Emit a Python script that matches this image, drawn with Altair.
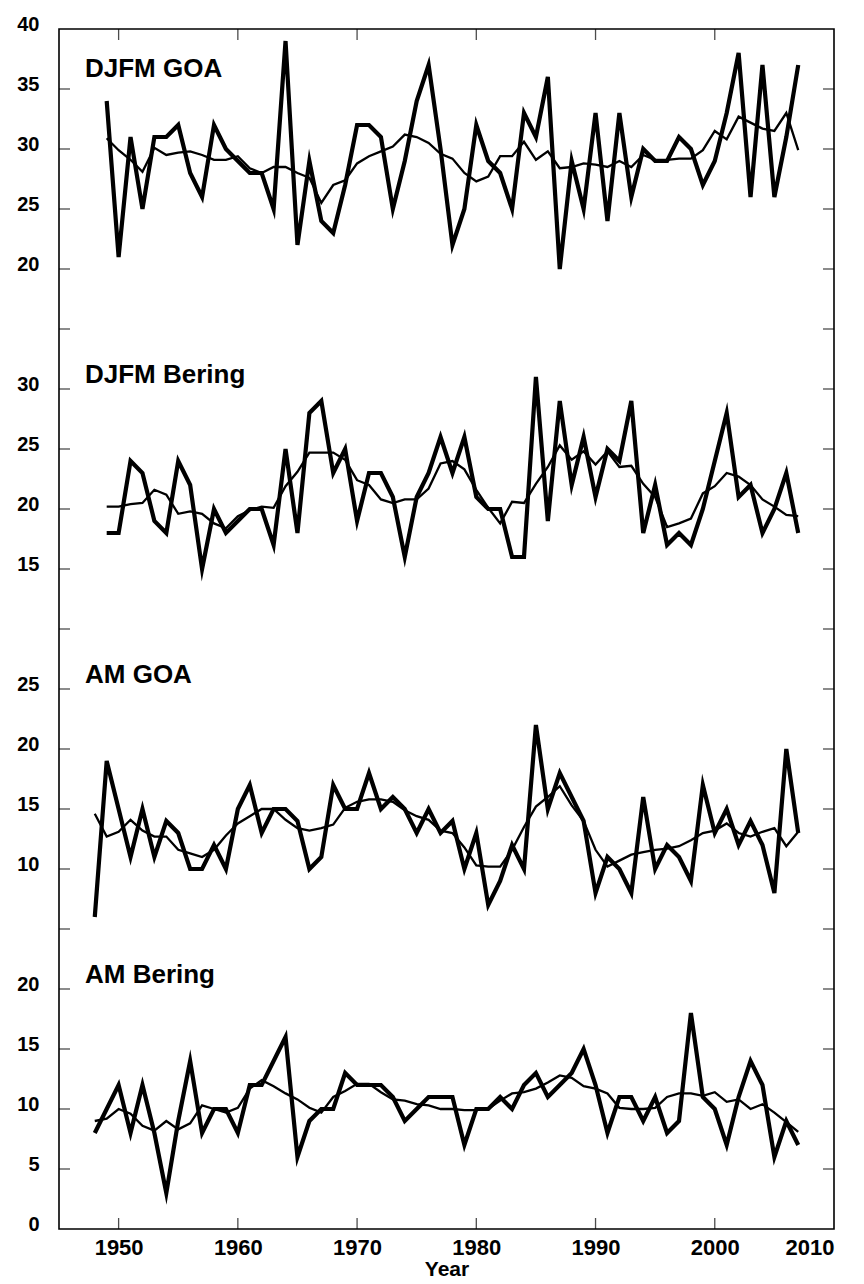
import altair as alt
import pandas as pd

# ---------------- data ----------------
years_djfm = list(range(1949, 2008))   # 59 winters
years_am = list(range(1948, 2008))     # 60 springs

djfm_goa = [34, 21, 31, 25, 31, 31, 32, 28, 26, 32, 30, 29, 28, 28, 25, 39, 22, 29, 24, 23,
            27, 32, 32, 31, 25, 29, 34, 37, 30, 22, 25, 32, 29, 28, 25, 33, 31, 36, 20, 29,
            25, 33, 24, 33, 26, 30, 29, 29, 31, 30, 27, 29, 33, 38, 26, 37, 26, 31, 37]
djfm_goa_smooth = [30.9, 29.9, 29.1, 28.1, 30.1, 29.5, 29.7, 29.8, 29.5, 29.1, 29.1, 29.4, 28.4, 28.0,
                   28.5, 28.5, 28.0, 27.6, 25.5, 27.0, 27.4, 28.8, 29.4, 29.8, 30.2, 31.2, 31.0, 30.5,
                   29.6, 29.2, 28.0, 27.3, 27.7, 29.4, 29.4, 30.6, 29.1, 29.8, 28.4, 28.5, 28.8, 28.7,
                   28.5, 29.0, 28.5, 29.5, 29.1, 29.1, 29.2, 29.2, 29.9, 31.5, 30.8, 32.7, 32.2, 31.7,
                   31.5, 33.0, 29.9]

djfm_bering = [18, 18, 24, 23, 19, 18, 24, 22, 15, 20, 18, 19, 20, 20, 17, 25, 18, 28, 29, 23,
               25, 19, 23, 23, 21, 16, 21, 23, 26, 23, 26, 21, 20, 20, 16, 16, 31, 19, 29, 22,
               26, 21, 25, 24, 29, 18, 22, 17, 18, 17, 20, 24, 28, 21, 22, 18, 20, 23, 18]
djfm_bering_smooth = [20.2, 20.2, 20.4, 20.5, 21.6, 21.2, 19.6, 19.8, 19.6, 18.8, 18.4, 19.4, 19.9, 20.2,
                      20.1, 21.9, 23.1, 24.7, 24.7, 24.7, 24.1, 22.4, 22.0, 20.8, 20.5, 20.8, 20.8, 21.7,
                      23.8, 24.0, 23.3, 21.6, 20.1, 18.8, 20.6, 20.5, 22.1, 23.5, 25.3, 24.1, 24.8, 23.7,
                      24.8, 23.5, 23.6, 22.1, 21.0, 18.5, 18.8, 19.2, 21.3, 21.9, 23.0, 22.7, 22.0, 20.8,
                      20.2, 19.5, 19.4]

am_goa = [6, 19, 15, 11, 15, 11, 14, 13, 10, 10, 12, 10, 15, 17, 13, 15, 15, 14, 10, 11,
          17, 15, 15, 18, 15, 16, 15, 13, 15, 13, 14, 10, 13, 7, 9, 12, 10, 22, 15, 18,
          16, 14, 8, 11, 10, 8, 16, 10, 12, 11, 9, 17, 13, 15, 12, 14, 12, 8, 20, 13]
am_goa_smooth = [14.6, 12.7, 13.1, 14.1, 13.2, 12.7, 12.7, 11.6, 11.3, 11.0, 11.6, 12.8, 13.8, 14.4,
                 15.0, 15.0, 14.1, 13.4, 13.2, 13.4, 13.7, 15.1, 15.6, 15.8, 15.8, 15.6, 14.9, 14.4,
                 14.1, 13.2, 13.0, 11.8, 10.3, 10.2, 10.2, 11.6, 13.5, 15.2, 16.0, 16.9, 15.3, 14.0,
                 11.6, 10.2, 10.7, 11.2, 11.4, 11.6, 11.7, 11.9, 12.4, 13.0, 13.2, 13.8, 13.0, 12.7,
                 13.1, 13.4, 11.9, 13.1]

am_bering = [8, 10, 12, 8, 12, 8, 3, 9, 14, 8, 10, 10, 8, 12, 12, 14, 16, 6, 9, 10,
             10, 13, 12, 12, 12, 11, 9, 10, 11, 11, 11, 7, 10, 10, 11, 10, 12, 13, 11, 12,
             13, 15, 12, 8, 11, 11, 9, 11, 8, 9, 18, 11, 10, 7, 11, 14, 12, 6, 9, 7]
am_bering_smooth = [9.0, 9.2, 10.0, 9.6, 8.6, 8.2, 9.0, 8.3, 8.8, 10.3, 10.0, 9.7, 10.1, 11.7,
                    12.4, 11.9, 11.3, 10.8, 10.1, 9.7, 11.0, 11.5, 12.1, 12.1, 11.4, 10.8, 10.7, 10.4,
                    10.3, 10.0, 10.0, 9.9, 9.9, 10.0, 10.7, 11.3, 11.4, 11.7, 12.2, 12.8, 12.6, 11.9,
                    11.7, 11.3, 10.1, 10.0, 10.0, 10.1, 11.0, 11.3, 11.3, 11.1, 11.4, 10.6, 10.8, 10.0,
                    10.4, 9.7, 8.9, 8.1]

panel_names = ["DJFM GOA", "DJFM Bering", "AM GOA", "AM Bering"]
# y tick labels of the stacked axis (blank = unlabeled separator tick)
ytick_labels = ["0", "5", "10", "15", "20", "",
                "10", "15", "20", "25", "",
                "15", "20", "25", "30", "",
                "20", "25", "30", "35", "40"]
xtick_years = [1950, 1960, 1970, 1980, 1990, 2000, 2010]

# ---------------- build tables ----------------
stack_offset = {"DJFM GOA": 60, "DJFM Bering": 40, "AM GOA": 20, "AM Bering": 0}
label_pos = {"DJFM GOA": 36, "DJFM Bering": 30.5, "AM GOA": 25.5, "AM Bering": 20.5}

series = [
    ("DJFM GOA", years_djfm, djfm_goa, djfm_goa_smooth),
    ("DJFM Bering", years_djfm, djfm_bering, djfm_bering_smooth),
    ("AM GOA", years_am, am_goa, am_goa_smooth),
    ("AM Bering", years_am, am_bering, am_bering_smooth),
]
rows = []
for name, yrs, raw, sm in series:
    for y, r, s in zip(yrs, raw, sm):
        rows.append({"panel": name, "year": y, "raw": r, "smooth": s,
                     "off": stack_offset[name]})
df = pd.DataFrame(rows)

labels_df = pd.DataFrame({"panel": panel_names,
                          "pos": [label_pos[p] + stack_offset[p] for p in panel_names]})
ytick_df = pd.DataFrame({"u": [5 * i for i in range(len(ytick_labels))][1:-1]})
xtick_df = pd.DataFrame({"year": xtick_years[:-1]})

label_expr = "[" + ",".join('"%s"' % t for t in ytick_labels) + "][round(datum.value/5)]"

FONT = "Liberation Sans"
W, H = 775, 1200

xscale = alt.Scale(domain=[1945, 2010], nice=False, zero=False)
yscale = alt.Scale(domain=[0, 100], nice=False, zero=False)

base = alt.Chart(df).transform_calculate(
    u_raw="datum.raw + datum.off", u_smooth="datum.smooth + datum.off")

thick = base.mark_line(color="black", strokeWidth=4.2, strokeJoin="miter",
                       strokeMiterLimit=6).encode(
    x=alt.X("year:Q", scale=xscale,
            axis=alt.Axis(values=xtick_years, format="d", ticks=False, tickSize=0,
                          domain=False, grid=False, labelFont=FONT, labelFontSize=22,
                          labelFontWeight="bold", labelColor="black", labelPadding=8,
                          title="Year", titleFont=FONT, titleFontSize=21,
                          titleFontWeight="bold", titleColor="black", titlePadding=0)),
    y=alt.Y("u_raw:Q", scale=yscale,
            axis=alt.Axis(values=[5 * i for i in range(21)], labelExpr=label_expr,
                          ticks=False, tickSize=0, domain=False, grid=False,
                          labelFont=FONT, labelFontSize=20, labelFontWeight="bold",
                          labelColor="black", labelPadding=20, labelBaseline="middle",
                          labelOffset=-5, title=None)),
    detail="panel:N",
)

thin = base.mark_line(color="black", strokeWidth=2.3).encode(
    x=alt.X("year:Q", scale=xscale, axis=None),
    y=alt.Y("u_smooth:Q", scale=yscale, axis=None),
    detail="panel:N",
)

tick_style = dict(size=11, thickness=1.3, color="black")
left_ticks = alt.Chart(ytick_df).mark_tick(orient="horizontal", **tick_style).encode(
    y=alt.Y("u:Q", scale=yscale, axis=None), x=alt.value(5.5))
right_ticks = alt.Chart(ytick_df).mark_tick(orient="horizontal", **tick_style).encode(
    y=alt.Y("u:Q", scale=yscale, axis=None), x=alt.value(W - 5.5))
top_ticks = alt.Chart(xtick_df).mark_tick(orient="vertical", **tick_style).encode(
    x=alt.X("year:Q", scale=xscale, axis=None), y=alt.value(5.5))
bottom_ticks = alt.Chart(xtick_df).mark_tick(orient="vertical", **tick_style).encode(
    x=alt.X("year:Q", scale=xscale, axis=None), y=alt.value(H - 5.5))

texts = alt.Chart(labels_df).mark_text(align="left", baseline="alphabetic", font=FONT,
                                       fontSize=26, fontWeight="bold", color="black").encode(
    x=alt.value(26), y=alt.Y("pos:Q", scale=yscale, axis=None), text="panel:N")

chart = alt.layer(
    thick, thin, left_ticks, right_ticks, top_ticks, bottom_ticks, texts
).resolve_axis(x="independent", y="independent").properties(
    width=W, height=H,
    padding={"left": 59, "top": 29, "right": 30, "bottom": 55},
    autosize=alt.AutoSizeParams(type="none"),
    background="white",
).configure_view(stroke="black", strokeWidth=1.6)

chart.save("out.html", embed_options={"renderer": "svg", "actions": False})
